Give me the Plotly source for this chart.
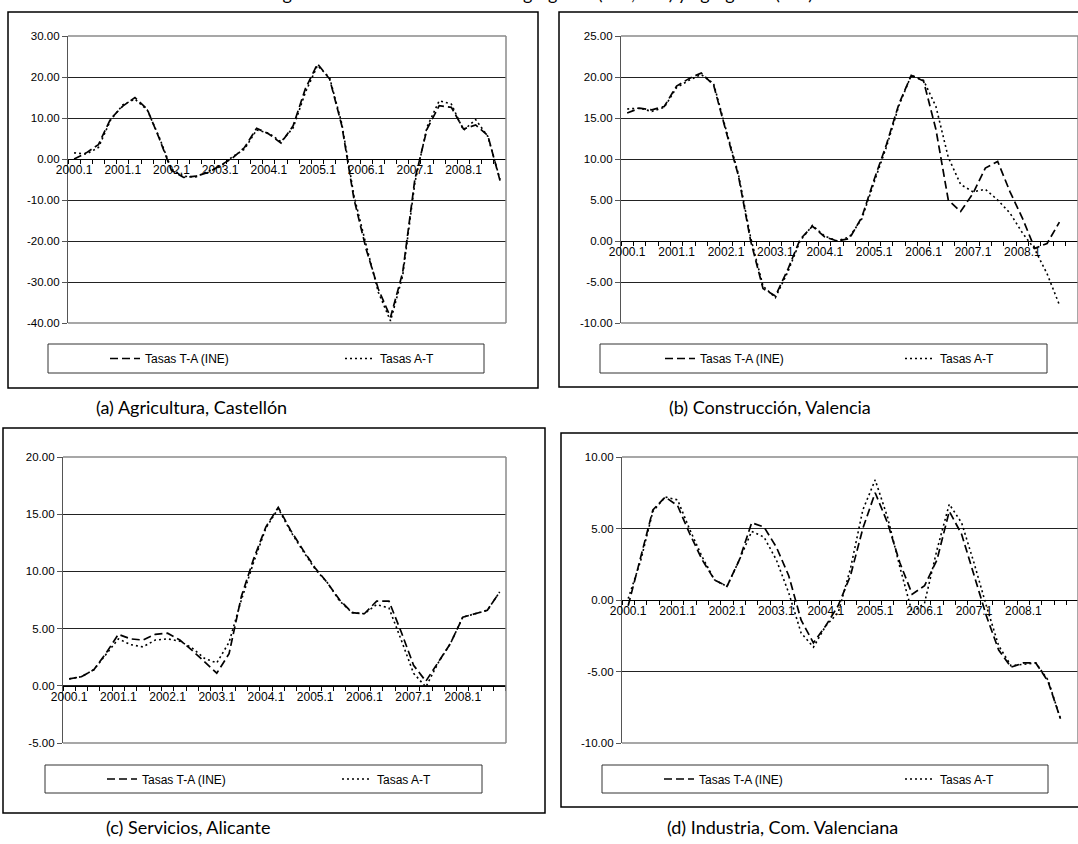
import plotly.graph_objects as go

# ---------------- data ----------------
quarters = [f"{y}.{q}" for y in range(2000, 2009) for q in range(1, 5)]
x_ticklabels = ["2000.1", "2001.1", "2002.1", "2003.1", "2004.1",
                "2005.1", "2006.1", "2007.1", "2008.1"]
series_names = ["Tasas T-A (INE)", "Tasas A-T"]

agri_ta = [0.0, 1.5, 3.5, 9.8, 12.9, 15.0, 12.2, 5.0, -2.8, -4.5, -4.2, -3.3,
           -1.6, 0.2, 2.8, 7.5, 6.1, 3.9, 8.1, 17.1, 23.2, 19.5, 8.1, -9.8,
           -22.0, -31.7, -38.6, -27.7, -5.0, 7.3, 13.0, 12.6, 7.3, 8.3, 5.7, -5.3]
agri_at = [1.5, 1.2, 2.8, 9.5, 13.2, 14.6, 12.0, 5.3, -2.5, -4.2, -4.4, -3.0,
           -1.9, 0.5, 2.4, 7.1, 6.3, 4.2, 7.6, 16.2, 22.8, 19.8, 8.6, -9.0,
           -21.0, -32.5, -39.5, -28.5, -5.8, 7.8, 14.2, 13.4, 7.0, 9.6, 5.5, -5.0]

cons_ta = [15.6, 16.2, 16.0, 16.4, 18.9, 19.8, 20.5, 19.0, 13.4, 8.0, 0.0, -5.8,
           -6.7, -3.5, 0.2, 1.8, 0.5, 0.0, 0.3, 2.9, 7.5, 11.8, 16.7, 20.2,
           19.5, 13.6, 5.0, 3.6, 5.8, 8.9, 9.7, 6.0, 2.8, -0.9, -0.3, 2.3]
cons_at = [16.1, 16.2, 15.8, 16.3, 18.7, 19.6, 20.3, 19.2, 13.6, 8.2, 0.4, -5.5,
           -6.9, -3.8, 0.0, 1.9, 0.6, 0.0, 0.5, 2.7, 7.2, 11.5, 16.5, 20.2,
           19.6, 16.4, 10.2, 6.9, 6.0, 6.3, 5.0, 3.4, 1.0, -1.0, -4.0, -7.8]

serv_ta = [0.6, 0.8, 1.4, 2.85, 4.5, 4.1, 4.0, 4.5, 4.6, 4.0, 3.1, 2.1,
           1.1, 2.8, 7.8, 11.1, 13.9, 15.6, 13.6, 11.9, 10.3, 9.0, 7.5, 6.4,
           6.3, 7.4, 7.4, 4.7, 1.8, 0.4, 2.0, 3.7, 6.0, 6.3, 6.6, 8.2]
serv_at = [0.6, 0.8, 1.4, 2.7, 4.1, 3.6, 3.4, 4.0, 4.1, 3.9, 3.3, 2.4,
           2.0, 3.8, 7.5, 10.8, 13.8, 15.5, 13.5, 11.8, 10.2, 9.0, 7.4, 6.4,
           6.3, 7.1, 6.8, 4.0, 1.1, -0.1, 2.0, 3.7, 6.0, 6.3, 6.6, 8.2]

indu_ta = [-0.4, 3.0, 6.3, 7.2, 6.6, 4.6, 2.8, 1.4, 0.95, 2.8, 5.4, 5.1,
           3.7, 1.7, -1.4, -3.0, -1.8, -0.4, 1.7, 5.0, 7.5, 5.4, 2.6, 0.4,
           1.0, 2.8, 6.2, 4.6, 1.7, -1.1, -3.5, -4.7, -4.4, -4.4, -5.7, -8.3]
indu_at = [0.1, 2.7, 6.2, 7.2, 7.0, 4.9, 3.0, 1.4, 0.95, 2.8, 4.8, 4.4,
           2.8, 0.5, -2.3, -3.3, -1.8, -0.9, 2.2, 6.3, 8.4, 5.8, 2.3, -0.9,
           -0.2, 3.5, 6.7, 5.4, 2.6, -0.4, -3.2, -4.6, -4.5, -4.4, -5.6, -8.3]

captions = ["(a) Agricultura, Castellón", "(b) Construcción, Valencia",
            "(c) Servicios, Alicante", "(d) Industria, Com. Valenciana"]
title_text = "Figura 2. Tasas de variación desagregadas (T-A, INE) y agregadas (A-T)"

# ---------------- layout helpers ----------------
W, H = 1078, 844
def fx(p): return p / W
def fy(p): return 1 - p / H

panels = [
    dict(ta=agri_ta, at=agri_at, L=68, bin=12.17, R=506, T=36, B=323,
         ymin=-40, ymax=30, dy=10, box=(8, 12, 538, 388),
         leg=(48, 344, 484, 373), legx=(145, 380), cap=(191.5, 407)),
    dict(ta=cons_ta, at=cons_at, L=621, bin=12.35, R=1078, T=36, B=323,
         ymin=-10, ymax=25, dy=5, box=(559, 12, 1100, 387),
         leg=(600, 344, 1047, 373), legx=(700, 940), cap=(770, 407)),
    dict(ta=serv_ta, at=serv_at, L=63, bin=12.3, R=506, T=457, B=743,
         ymin=-5, ymax=20, dy=5, box=(3, 428, 545, 813),
         leg=(45, 765, 482, 793), legx=(142, 377), cap=(187.5, 827)),
    dict(ta=indu_ta, at=indu_at, L=622, bin=12.35, R=1078, T=457, B=743,
         ymin=-10, ymax=10, dy=5, box=(561, 433, 1100, 807),
         leg=(602, 765, 1048, 793), legx=(699, 940), cap=(782.5, 827)),
]

xtick_font = dict(family="Liberation Sans, Arial, sans-serif", size=12, color="black")
ytick_font = dict(family="Liberation Sans, Arial, sans-serif", size=11.5, color="black")
leg_font = dict(family="Liberation Sans, Arial, sans-serif", size=12, color="black")
cap_font = dict(family="Lato, Open Sans, sans-serif", size=18, color="black")
styles = [dict(color="black", width=1.7, dash="8px,4px"),
          dict(color="black", width=1.6, dash="2px,3px")]

fig = go.Figure()
layout = dict(width=W, height=H, margin=dict(l=0, r=0, t=0, b=0, autoexpand=False),
              paper_bgcolor="white", plot_bgcolor="rgba(0,0,0,0)",
              showlegend=True, shapes=[], annotations=[])

xs = list(range(len(quarters)))
leg_idx = 0
for k, p in enumerate(panels, start=1):
    sx = "" if k == 1 else str(k)
    xa, ya = "x" + sx, "y" + sx
    lx0, ly0, lx1, ly1 = p["leg"]
    for j, vals in enumerate([p["ta"], p["at"]]):
        leg_idx += 1
        legname = "legend" if leg_idx == 1 else f"legend{leg_idx}"
        fig.add_trace(go.Scatter(x=xs, y=vals, mode="lines", name=series_names[j],
                                 line=styles[j], xaxis=xa, yaxis=ya,
                                 legend=legname, hoverinfo="skip"))
        layout[legname] = dict(
            x=fx(p["legx"][j] - 40), y=fy((ly0 + ly1) / 2), xanchor="left", yanchor="middle",
            orientation="h", bgcolor="rgba(0,0,0,0)", borderwidth=0, font=leg_font,
            itemwidth=30)

    xmax = -0.5 + (p["R"] - p["L"]) / p["bin"]
    yvals = list(range(p["ymin"], p["ymax"] + 1, p["dy"]))
    zero_py = p["T"] + (p["ymax"] - 0) / (p["ymax"] - p["ymin"]) * (p["B"] - p["T"])

    layout["xaxis" + sx] = dict(
        domain=[fx(p["L"]), fx(p["R"])], range=[-0.5, xmax],
        anchor="free", position=fy(zero_py),
        showline=True, linecolor="black", linewidth=1,
        showgrid=False, zeroline=False,
        tickmode="array", tickvals=list(range(0, 36, 4)), ticktext=x_ticklabels,
        ticks="", tickfont=xtick_font,
        minor=dict(tickmode="array", tickvals=[i - 0.5 for i in range(37)],
                   ticks="outside", ticklen=4, tickcolor="black", tickwidth=1,
                   showgrid=False),
    )
    layout["yaxis" + sx] = dict(
        domain=[fy(p["B"]), fy(p["T"])], range=[p["ymin"], p["ymax"]],
        anchor=xa, tickmode="array", tickvals=yvals,
        ticktext=[f"{v:.2f}" for v in yvals], tickfont=ytick_font,
        ticks="outside", ticklen=5, tickcolor="#555",
        showline=True, linecolor="#555", linewidth=1.3,
        showgrid=True, gridcolor="#222", gridwidth=1, zeroline=False,
    )

    for (x0, y0, x1, y1) in [(p["L"], p["T"], p["R"], p["T"]),
                             (p["R"], p["T"], p["R"], p["B"]),
                             (p["L"], p["B"], p["R"], p["B"])]:
        layout["shapes"].append(dict(type="line", xref="paper", yref="paper",
                                     x0=fx(x0), y0=fy(y0), x1=fx(x1), y1=fy(y1),
                                     line=dict(color="#8a8a8a", width=1.5), layer="above"))
    bx0, by0, bx1, by1 = p["box"]
    layout["shapes"].append(dict(type="rect", xref="paper", yref="paper",
                                 x0=fx(bx0), y0=fy(by1), x1=fx(bx1), y1=fy(by0),
                                 line=dict(color="black", width=1.5), layer="below"))
    layout["shapes"].append(dict(type="rect", xref="paper", yref="paper",
                                 x0=fx(lx0), y0=fy(ly1), x1=fx(lx1), y1=fy(ly0),
                                 line=dict(color="#333", width=1), layer="below"))
    layout["annotations"].append(dict(
        text=captions[k - 1], xref="paper", yref="paper",
        x=fx(p["cap"][0]), y=fy(p["cap"][1]), xanchor="center", yanchor="middle",
        showarrow=False, font=cap_font))

# title clipped by the top edge (only descenders visible, as in the source)
layout["annotations"].append(dict(
    text=title_text, xref="paper", yref="paper", x=fx(540), y=fy(0),
    xanchor="center", yanchor="bottom", yshift=-6, showarrow=False, font=cap_font))

fig.update_layout(**layout)
fig.write_html("out.html", config={"displayModeBar": False},
               post_script="document.body.style.margin='0';")
